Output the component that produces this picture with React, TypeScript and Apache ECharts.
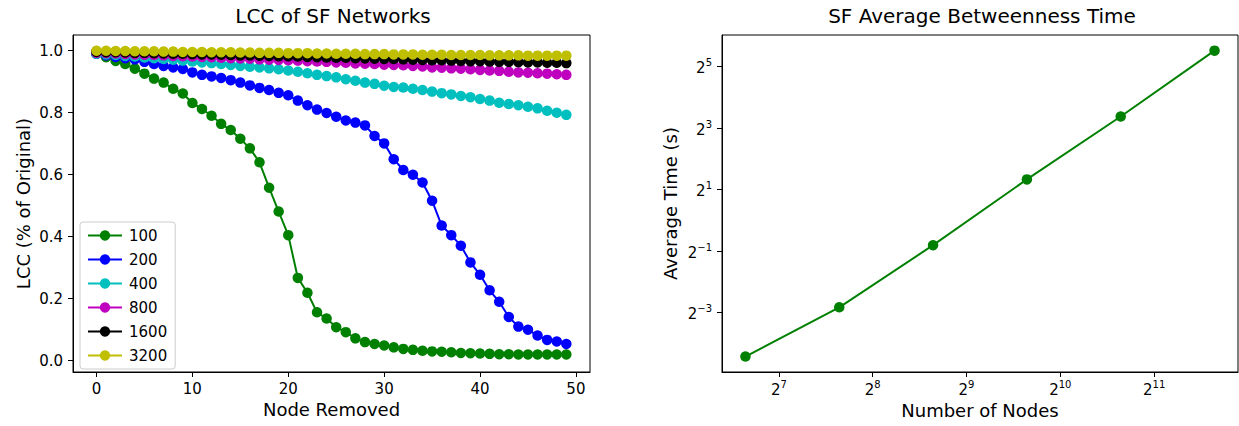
import React, { useEffect, useRef } from 'react';
import * as echarts from 'echarts';

const nodeRemoved = [0,1,2,3,4,5,6,7,8,9,10,11,12,13,14,15,16,17,18,19,20,21,22,23,24,25,26,27,28,29,30,31,32,33,34,35,36,37,38,39,40,41,42,43,44,45,46,47,48,49];

const lcc100 = [0.990,0.979,0.967,0.957,0.942,0.926,0.910,0.897,0.877,0.862,0.831,0.812,0.790,0.764,0.744,0.716,0.685,0.640,0.558,0.481,0.405,0.267,0.219,0.156,0.136,0.108,0.092,0.072,0.060,0.054,0.049,0.043,0.038,0.035,0.032,0.030,0.029,0.027,0.025,0.024,0.023,0.022,0.021,0.021,0.020,0.020,0.020,0.020,0.020,0.020];
const lcc200 = [0.990,0.985,0.980,0.976,0.972,0.964,0.957,0.951,0.946,0.941,0.930,0.922,0.917,0.912,0.905,0.897,0.888,0.880,0.873,0.864,0.856,0.839,0.824,0.810,0.799,0.787,0.775,0.768,0.759,0.725,0.701,0.650,0.615,0.600,0.575,0.516,0.436,0.405,0.371,0.317,0.277,0.227,0.190,0.141,0.110,0.100,0.081,0.067,0.062,0.054];
const lcc400 = [0.990,0.988,0.986,0.983,0.981,0.978,0.976,0.973,0.971,0.968,0.965,0.962,0.960,0.957,0.954,0.951,0.948,0.946,0.943,0.940,0.936,0.932,0.927,0.922,0.918,0.914,0.908,0.903,0.897,0.893,0.887,0.883,0.881,0.877,0.873,0.868,0.863,0.859,0.854,0.850,0.844,0.839,0.832,0.828,0.824,0.819,0.814,0.806,0.800,0.793];
const lcc800 = [0.993,0.992,0.991,0.989,0.988,0.987,0.986,0.985,0.983,0.982,0.981,0.980,0.979,0.977,0.976,0.975,0.974,0.972,0.971,0.970,0.969,0.968,0.966,0.965,0.964,0.962,0.961,0.959,0.958,0.957,0.955,0.954,0.953,0.951,0.949,0.946,0.945,0.943,0.942,0.940,0.938,0.936,0.935,0.932,0.930,0.929,0.927,0.926,0.924,0.922];
const lcc1600 = [0.996,0.995,0.995,0.994,0.993,0.993,0.992,0.991,0.990,0.990,0.989,0.988,0.988,0.987,0.986,0.985,0.985,0.984,0.983,0.982,0.982,0.981,0.980,0.979,0.978,0.977,0.977,0.976,0.975,0.974,0.973,0.973,0.972,0.971,0.970,0.969,0.969,0.968,0.967,0.966,0.966,0.965,0.964,0.964,0.963,0.962,0.962,0.961,0.961,0.960];
const lcc3200 = [1.000,1.000,0.999,0.999,0.998,0.998,0.998,0.997,0.997,0.996,0.996,0.996,0.995,0.995,0.995,0.994,0.994,0.993,0.993,0.993,0.992,0.992,0.992,0.991,0.991,0.990,0.990,0.990,0.989,0.989,0.989,0.988,0.988,0.988,0.987,0.987,0.987,0.986,0.986,0.986,0.986,0.985,0.985,0.985,0.985,0.984,0.984,0.984,0.984,0.984];

const seriesNames = ['100', '200', '400', '800', '1600', '3200'];
const seriesColors = ['#008000', '#0000ff', '#00bfbf', '#bf00bf', '#000000', '#bfbf00'];
const lccSeries = [lcc100, lcc200, lcc400, lcc800, lcc1600, lcc3200];

const nodeCounts = [100, 200, 400, 800, 1600, 3200];
const avgTimes = [0.0465, 0.141, 0.572, 2.52, 10.4, 45.9];

const removedTicks = [0, 10, 20, 30, 40, 50];
const lccTicks = [0, 0.2, 0.4, 0.6, 0.8, 1.0];
const nodeTicks = [128, 256, 512, 1024, 2048];
const timeTicks = [0.125, 0.5, 2, 8, 32];

const FONT = 'DejaVu Sans';
const TICK_FS = 15;
const NAME_FS = 18;
const TITLE_FS = 20;

const pow2Label = (v: number) => {
  const e = Math.round(Math.log2(v));
  const s = e < 0 ? '\u2212' + Math.abs(e) : String(e);
  return '{b|2}{s|' + s + '}';
};
const powRich = {
  b: { fontSize: TICK_FS, fontFamily: FONT, color: '#000', verticalAlign: 'bottom' },
  s: { fontSize: 10, fontFamily: FONT, color: '#000', verticalAlign: 'top', padding: [0, 0, 8, 0] },
};

export default function App() {
  const ref = useRef<HTMLDivElement>(null);
  useEffect(() => {
    if (!ref.current) return;
    const chart = echarts.init(ref.current, null, { renderer: 'svg' });
    const tickStyle = { show: true, inside: false, length: 5, lineStyle: { color: '#000', width: 1 } };
    const lineAxis = { show: true, onZero: false, lineStyle: { color: '#000', width: 1 } };
    const nameStyle = { fontSize: NAME_FS, color: '#000', fontFamily: FONT };
    const titleStyle = { fontSize: TITLE_FS, fontWeight: 'normal', color: '#000', fontFamily: FONT };
    const option: any = {
      animation: false,
      backgroundColor: '#fff',
      textStyle: { fontFamily: FONT },
      title: [
        { text: 'LCC of SF Networks', left: 333, top: 6, padding: 0, textAlign: 'center', textStyle: titleStyle },
        { text: 'SF Average Betweenness Time', left: 982, top: 6, padding: 0, textAlign: 'center', textStyle: titleStyle },
      ],
      legend: {
        data: seriesNames,
        orient: 'vertical',
        left: 80,
        top: 222,
        padding: [6, 8, 6, 7],
        itemWidth: 34,
        itemHeight: 13,
        itemGap: 9,
        backgroundColor: 'rgba(255,255,255,0.8)',
        borderColor: '#cccccc',
        borderWidth: 1,
        borderRadius: 3,
        textStyle: { fontSize: TICK_FS, color: '#000', fontFamily: FONT, lineHeight: 14, padding: [0, 0, 0, 2] },
      },
      grid: [
        { left: 73, top: 35, width: 517, height: 337, show: true, borderColor: '#000', borderWidth: 1, backgroundColor: 'transparent' },
        { left: 722, top: 35, width: 516, height: 337, show: true, borderColor: '#000', borderWidth: 1, backgroundColor: 'transparent' },
      ],
      xAxis: [
        {
          type: 'value', gridIndex: 0, min: -2.45, max: 51.47,
          name: 'Node Removed', nameLocation: 'middle', nameGap: 28,
          nameTextStyle: nameStyle,
          axisLine: lineAxis,
          axisTick: { ...tickStyle, customValues: removedTicks },
          axisLabel: { customValues: removedTicks, fontSize: TICK_FS, color: '#000', margin: 9, fontFamily: FONT },
          splitLine: { show: false },
        },
        {
          type: 'log', logBase: 2, gridIndex: 1, min: Math.pow(2, 6.394), max: Math.pow(2, 11.894),
          name: 'Number of Nodes', nameLocation: 'middle', nameGap: 28,
          nameTextStyle: nameStyle,
          axisLine: lineAxis,
          axisTick: { ...tickStyle, customValues: nodeTicks },
          axisLabel: { customValues: nodeTicks, formatter: pow2Label, rich: powRich, margin: 7 },
          splitLine: { show: false },
          minorTick: { show: false },
        },
      ],
      yAxis: [
        {
          type: 'value', gridIndex: 0, min: -0.0365, max: 1.0506,
          name: 'LCC (% of Original)', nameLocation: 'middle', nameGap: 41,
          nameTextStyle: nameStyle,
          axisLine: lineAxis,
          axisTick: { ...tickStyle, customValues: lccTicks },
          axisLabel: { customValues: lccTicks, formatter: (v: number) => v.toFixed(1), fontSize: TICK_FS, color: '#000', margin: 10, fontFamily: FONT },
          splitLine: { show: false },
        },
        {
          type: 'log', logBase: 2, gridIndex: 1, min: Math.pow(2, -4.93), max: Math.pow(2, 6.03),
          name: 'Average Time (s)', nameLocation: 'middle', nameGap: 43,
          nameTextStyle: nameStyle,
          axisLine: lineAxis,
          axisTick: { ...tickStyle, customValues: timeTicks },
          axisLabel: { customValues: timeTicks, formatter: pow2Label, rich: powRich, margin: 10 },
          splitLine: { show: false },
          minorTick: { show: false },
        },
      ],
      series: [
        ...lccSeries.map((vals, k) => ({
          name: seriesNames[k],
          type: 'line',
          xAxisIndex: 0,
          yAxisIndex: 0,
          data: nodeRemoved.map((x, i) => [x, vals[i]]),
          symbol: 'circle',
          symbolSize: 10.5,
          showSymbol: true,
          color: seriesColors[k],
          itemStyle: { color: seriesColors[k] },
          lineStyle: { color: seriesColors[k], width: 2 },
          emphasis: { disabled: true },
        })),
        {
          name: 'time',
          type: 'line',
          xAxisIndex: 1,
          yAxisIndex: 1,
          data: nodeCounts.map((n, i) => [n, avgTimes[i]]),
          symbol: 'circle',
          symbolSize: 10.5,
          color: '#008000',
          itemStyle: { color: '#008000' },
          lineStyle: { color: '#008000', width: 2 },
          emphasis: { disabled: true },
        },
      ],
    };
    chart.setOption(option);
    return () => chart.dispose();
  }, []);
  return <div ref={ref} style={{ position: 'fixed', left: 0, top: 0, width: 1239, height: 426, background: '#fff' }} />;
}
